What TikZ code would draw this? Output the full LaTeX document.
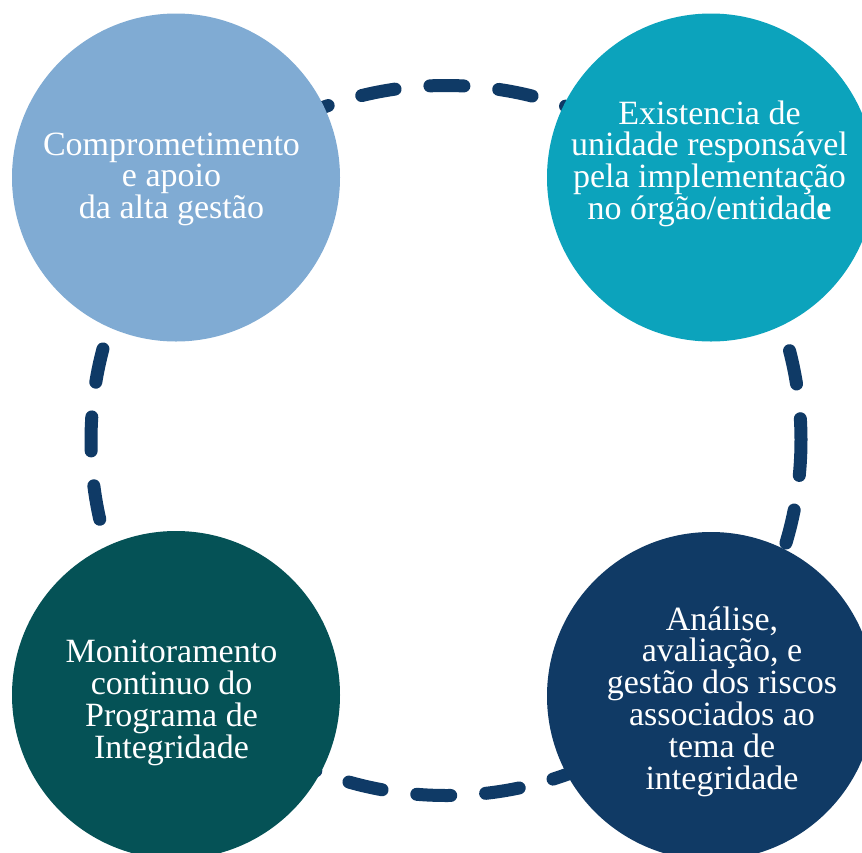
\documentclass[tikz,border=0pt]{standalone}
\usepackage{fontspec}
\setmainfont{Liberation Serif}
\definecolor{cLight}{HTML}{80ABD3}
\definecolor{cTeal}{HTML}{0CA3BC}
\definecolor{cDark}{HTML}{055256}
\definecolor{cNavy}{HTML}{103A65}
\definecolor{cDash}{HTML}{0F3A66}
\newcommand{\circtext}[1]{\vtop{\hsize=320pt\parindent=0pt\centering\fontsize{34}{31.8}\selectfont\lineskiplimit=-100pt\lineskip=0pt #1\par}}
\begin{document}
\begin{tikzpicture}[x=1pt,y=-1pt,
  bubble/.style={circle, minimum size=328pt, inner sep=0pt, draw=none},
  ctext/.style={anchor=base, inner sep=0pt, text=white},
  ring/.style={draw=cDash, line width=13pt, line cap=round, dash pattern=on 34pt off 35pt}]
\fill[white] (0,0) rectangle (862,852);
\useasboundingbox (0,0) rectangle (862,852);
\clip (0,0) rectangle (862,852);
\coordinate (o) at (446,440.5);
\draw[ring] (o) ++(-1.97:355pt) arc[start angle=-1.97, end angle=358.03, radius=355pt];
\node[bubble, fill=cLight] (c1) at (176,177.5) {};
\node[bubble, fill=cTeal] (c2) at (711,177.5) {};
\node[bubble, fill=cNavy] (c3) at (711,696) {};
\node[bubble, fill=cDark] (c4) at (176,695) {};
\node[ctext] (t1) at (171.5,155) {\circtext{Comprometimento\\e apoio\\da alta gestão}};
\node[ctext] (t2) at (709.5,124) {\circtext{Existencia de\\unidade responsável\\pela implementação\\no órgão/entidad\textbf{e}}};
\node[ctext] (t3) at (722,630) {\circtext{Análise,\\avaliação, e\\gestão dos riscos\\associados ao\\tema de\\integridade}};
\node[ctext] (t4) at (171.5,662.7) {\circtext{Monitoramento\\continuo do\\Programa de\\Integridade}};
\end{tikzpicture}
\end{document}
